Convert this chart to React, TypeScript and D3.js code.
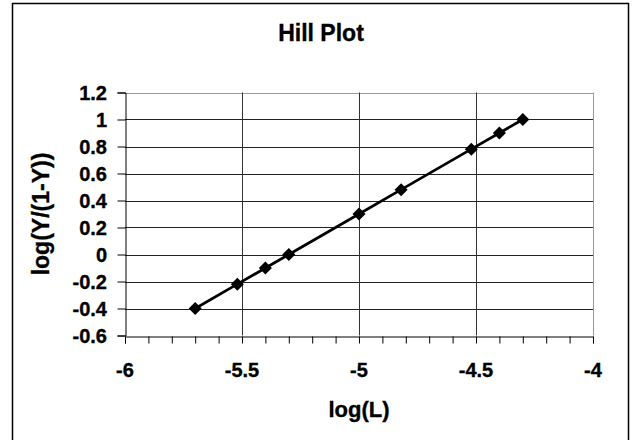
import React, {useEffect, useRef} from 'react';
import * as d3 from "d3"

// log(L) values and log(Y/(1-Y)) values
const logL = [-5.7, -5.52, -5.4, -5.3, -5.0, -4.82, -4.52, -4.4, -4.3]
const logY = [-0.4, -0.22, -0.1, 0.0, 0.3, 0.48, 0.78, 0.9, 1.0]
const xTicks = [-6, -5.5, -5, -4.5, -4]
const yTicks = [-0.6, -0.4, -0.2, 0, 0.2, 0.4, 0.6, 0.8, 1, 1.2]

const width = 635
const height = 440
const FONT = "'Liberation Sans', Arial, sans-serif"

const App = () => {
    const svgRef = useRef(null)

    useEffect(() => {
        const svg = d3.select(svgRef.current)
        svg.selectAll("*").remove()

        const left = 125, right = 593, top = 92.5, bottom = 335.5

        const xScale = d3.scaleLinear().domain([-6, -4]).range([left, right])
        const yScale = d3.scaleLinear().domain([-0.6, 1.2]).range([bottom, top])

        // bold text helper, slightly stroked to look heavier
        const label = (sel, size) => sel
            .style("font-family", FONT)
            .style("font-weight", "bold")
            .style("font-size", size)
            .attr("fill", "#000")
            .attr("stroke", "#000")
            .attr("stroke-width", 0.35)

        // outer chart border
        svg.append("rect")
            .attr("x", 12.5).attr("y", 3.5)
            .attr("width", 616).attr("height", 440)
            .attr("fill", "#fff")
            .attr("stroke", "#000")
            .attr("stroke-width", 1.5)

        // title
        svg.append("text")
            .attr("x", 321).attr("y", 41)
            .attr("text-anchor", "middle")
            .call(label, "23px")
            .text("Hill Plot")

        // horizontal gridlines
        svg.append("g")
            .selectAll("line")
            .data(yTicks.filter(t => t > -0.6))
            .join("line")
            .attr("x1", left).attr("x2", right)
            .attr("y1", d => Math.round(yScale(d)) + 0.5)
            .attr("y2", d => Math.round(yScale(d)) + 0.5)
            .attr("stroke", d => d === 1.2 ? "#999" : "#222")
            .attr("stroke-width", 1)

        // vertical gridlines
        svg.append("g")
            .selectAll("line")
            .data(xTicks.filter(t => t > -6))
            .join("line")
            .attr("x1", d => Math.round(xScale(d)) + 0.5)
            .attr("x2", d => Math.round(xScale(d)) + 0.5)
            .attr("y1", top).attr("y2", bottom)
            .attr("stroke", d => d === -4 ? "#999" : "#333")
            .attr("stroke-width", 1)

        // x axis with minor ticks every 0.1
        const xAxis = d3.axisBottom(xScale)
            .tickValues(d3.range(-60, -39).map(v => v / 10))
            .tickSize(7)
            .tickFormat(() => "")
        const gx = svg.append("g")
            .attr("transform", `translate(0, ${Math.round(bottom) + 0.5})`)
            .call(xAxis)
        gx.select(".domain").attr("stroke", "#000")
        gx.selectAll(".tick line").attr("stroke", "#000")

        svg.append("g")
            .selectAll("text")
            .data(xTicks)
            .join("text")
            .attr("x", d => xScale(d))
            .attr("y", 377)
            .attr("text-anchor", "middle")
            .call(label, "20px")
            .text(d => String(d))

        // y axis
        const yAxis = d3.axisLeft(yScale)
            .tickValues(yTicks)
            .tickSize(8)
            .tickFormat(() => "")
        const gy = svg.append("g")
            .attr("transform", `translate(${Math.round(left) + 0.5}, 0)`)
            .call(yAxis)
        gy.select(".domain").attr("stroke", "#000")
        gy.selectAll(".tick line").attr("stroke", "#000")

        svg.append("g")
            .selectAll("text")
            .data(yTicks)
            .join("text")
            .attr("x", 107)
            .attr("y", d => yScale(d) + 7)
            .attr("text-anchor", "end")
            .call(label, "20px")
            .text(d => String(Math.round(d * 10) / 10))

        // axis titles
        svg.append("text")
            .attr("x", 359).attr("y", 417)
            .attr("text-anchor", "middle")
            .call(label, "22px")
            .text("log(L)")

        svg.append("text")
            .attr("transform", `translate(49, ${(top + bottom) / 2}) rotate(-90)`)
            .attr("text-anchor", "middle")
            .call(label, "23px")
            .text("log(Y/(1-Y))")

        // data line
        const points = logL.map((x, i) => [x, logY[i]])
        const line = d3.line()
            .x(d => xScale(d[0]))
            .y(d => yScale(d[1]))
        svg.append("path")
            .datum(points)
            .attr("d", line)
            .attr("fill", "none")
            .attr("stroke", "#000")
            .attr("stroke-width", 2.7)

        // diamond markers
        const diamond = d3.symbol().type(d3.symbolSquare).size(85)
        svg.append("g")
            .selectAll("path")
            .data(points)
            .join("path")
            .attr("d", diamond)
            .attr("transform", d => `translate(${xScale(d[0])}, ${yScale(d[1])}) rotate(45)`)
            .attr("fill", "#000")
    }, [])

    return (
        <svg ref={svgRef} width={width} height={height}
             style={{position: "absolute", left: 0, top: 0, background: "#fff"}}>
        </svg>
    );
};

export default App;
